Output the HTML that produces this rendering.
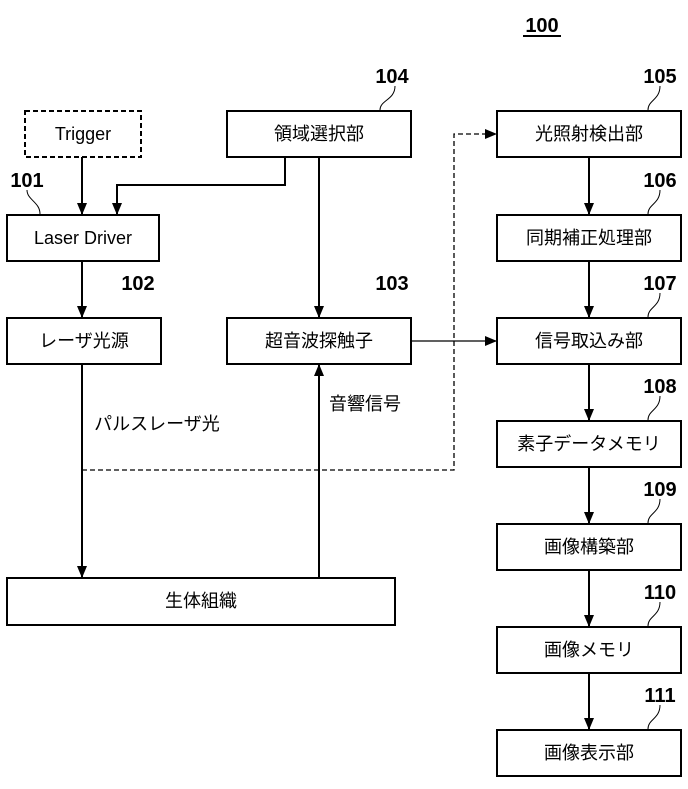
<!DOCTYPE html>
<html><head><meta charset="utf-8"><style>
body{margin:0;background:#fff}
svg{display:block}
text{font-family:"Liberation Sans","Noto Sans CJK JP",sans-serif;fill:#000}
.b{font-size:18px;text-anchor:middle;dominant-baseline:central}
.n{font-size:20px;font-weight:bold;text-anchor:middle}
</style></head><body>
<svg width="688" height="789" viewBox="0 0 688 789" xmlns="http://www.w3.org/2000/svg">
<defs><marker id="a" markerWidth="12" markerHeight="12" refX="11" refY="6" orient="auto" markerUnits="userSpaceOnUse"><path d="M0,1 L12,6 L0,11 Z" fill="#000"/></marker></defs>
<g fill="none" stroke="#000" stroke-width="2">
<rect x="25" y="111" width="116" height="46" stroke-dasharray="5,3"/>
<rect x="227" y="111" width="184" height="46"/>
<rect x="497" y="111" width="184" height="46"/>
<rect x="7" y="215" width="152" height="46"/>
<rect x="497" y="215" width="184" height="46"/>
<rect x="7" y="318" width="154" height="46"/>
<rect x="227" y="318" width="184" height="46"/>
<rect x="497" y="318" width="184" height="46"/>
<rect x="497" y="421" width="184" height="46"/>
<rect x="497" y="524" width="184" height="46"/>
<rect x="7" y="578" width="388" height="47"/>
<rect x="497" y="627" width="184" height="46"/>
<rect x="497" y="730" width="184" height="46"/>
</g>
<g fill="none" stroke="#000" stroke-width="2" marker-end="url(#a)">
<path d="M82,157 V214"/>
<path d="M285,157 V185 H117 V214"/>
<path d="M82,261 V317"/>
<path d="M319,157 V317"/>
<path d="M82,364 V577"/>
<path d="M319,578 V365"/>
<path d="M589,157 V214"/>
<path d="M589,261 V317"/>
<path d="M589,364 V420"/>
<path d="M589,467 V523"/>
<path d="M589,570 V626"/>
<path d="M589,673 V729"/>
</g>
<path d="M411,341 H496" stroke="#000" stroke-width="1.3" marker-end="url(#a)"/>
<path d="M82,470 H454 V134 H496" fill="none" stroke="#000" stroke-width="1.3" stroke-dasharray="5,3" marker-end="url(#a)"/>
<g fill="none" stroke="#000" stroke-width="1">
<path d="M27,190 C27,200 40,202 40,214"/>
<path d="M395,86 C395,100 380,100 380,110"/>
<path d="M660,86 C660,100 648,100 648,110"/>
<path d="M660,190 C660,204 648,204 648,214"/>
<path d="M660,293 C660,307 648,307 648,317"/>
<path d="M660,396 C660,410 648,410 648,420"/>
<path d="M660,499 C660,513 648,513 648,523"/>
<path d="M660,602 C660,616 648,616 648,626"/>
<path d="M660,705 C660,719 648,719 648,729"/>
</g>
<text class="b" x="83" y="134">Trigger</text>
<text class="b" x="319" y="134">領域選択部</text>
<text class="b" x="589" y="134">光照射検出部</text>
<text class="b" x="83" y="238">Laser Driver</text>
<text class="b" x="589" y="238">同期補正処理部</text>
<text class="b" x="84" y="341">レーザ光源</text>
<text class="b" x="319" y="341">超音波探触子</text>
<text class="b" x="589" y="341">信号取込み部</text>
<text class="b" x="589" y="444">素子データメモリ</text>
<text class="b" x="589" y="547">画像構築部</text>
<text class="b" x="201" y="601">生体組織</text>
<text class="b" x="589" y="650">画像メモリ</text>
<text class="b" x="589" y="753">画像表示部</text>
<text class="b" x="157" y="424">パルスレーザ光</text>
<text class="b" x="365" y="404">音響信号</text>
<text class="n" x="542" y="32">100</text>
<path d="M523,36 H561" stroke="#000" stroke-width="2"/>
<text class="n" x="392" y="83">104</text>
<text class="n" x="660" y="83">105</text>
<text class="n" x="27" y="187">101</text>
<text class="n" x="660" y="187">106</text>
<text class="n" x="138" y="290">102</text>
<text class="n" x="392" y="290">103</text>
<text class="n" x="660" y="290">107</text>
<text class="n" x="660" y="393">108</text>
<text class="n" x="660" y="496">109</text>
<text class="n" x="660" y="599">110</text>
<text class="n" x="660" y="702">111</text>
</svg>
</body></html>
